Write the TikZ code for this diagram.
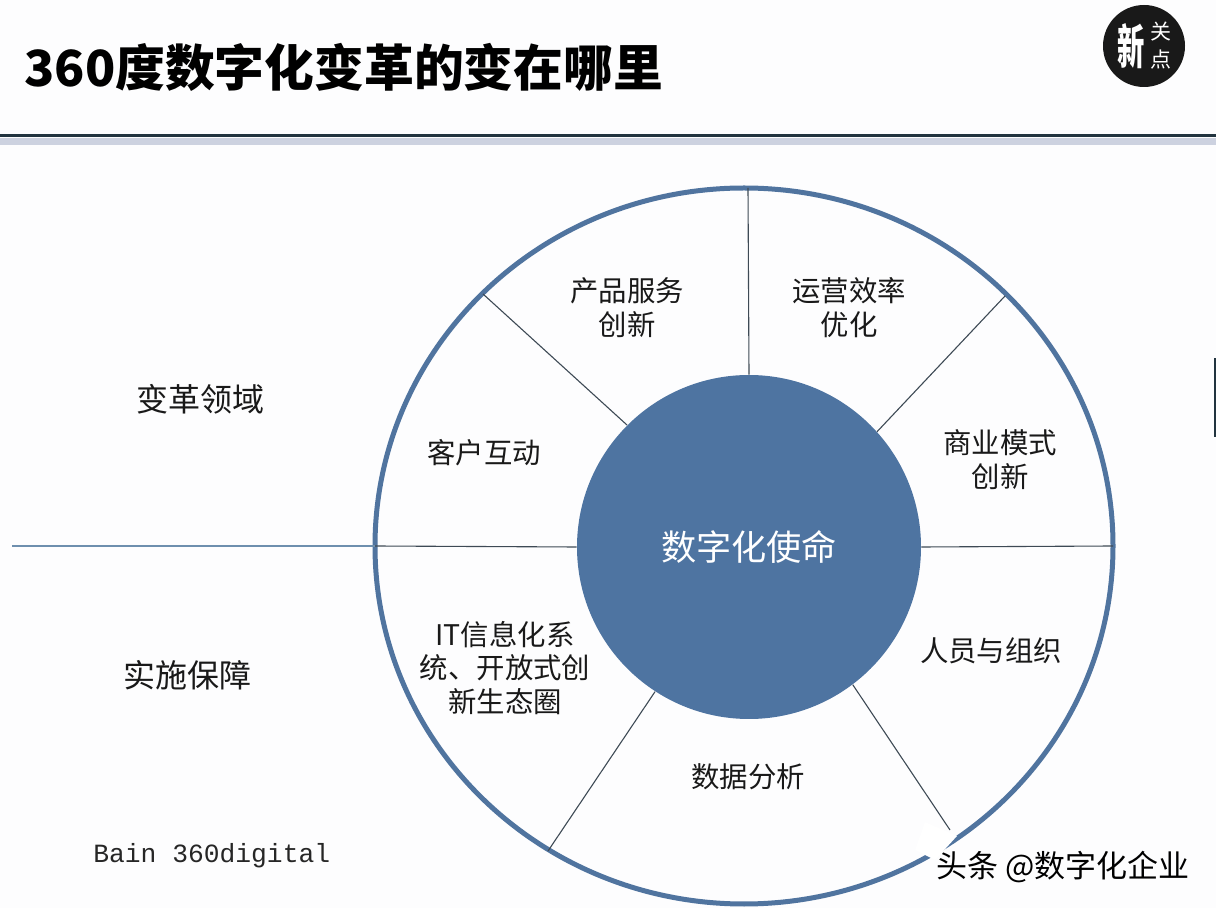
\documentclass[tikz,border=0pt]{standalone}
\usepackage{fontspec}
\setmainfont{Noto Sans CJK SC}
\setmonofont{Liberation Mono}
\definecolor{ringblue}{HTML}{50749F}
\definecolor{corefill}{HTML}{4E74A1}
\definecolor{spokedark}{HTML}{3E4A55}
\definecolor{axisblue}{HTML}{6E8FAE}
\definecolor{headdark}{HTML}{22343F}
\definecolor{headband}{HTML}{CDD2E0}
\definecolor{pagebg}{HTML}{FDFDFE}
\tikzset{
  x=0.5pt,y=-0.5pt,
  label text/.style={font=\fontsize{14.2pt}{16.7pt}\selectfont,align=center,text=black!90,inner sep=0pt},
  side text/.style={font=\fontsize{16pt}{20pt}\selectfont,text=black!90,inner sep=0pt},
  spoke/.style={draw=spokedark,line width=0.55pt},
}
\begin{document}
\begin{tikzpicture}
\useasboundingbox (0,0) rectangle (1216,908);
\fill[pagebg] (0,0) rectangle (1216,908);
% header
\node[anchor=west,inner sep=0pt,font=\fontsize{24.9pt}{30pt}\selectfont\bfseries] (title) at (24,67) {360度数字化变革的变在哪里};
\fill[headband] (0,138) rectangle (1216,145);
\draw[headdark,line width=1.2pt] (0,135.5) -- (1216,135.5);
\fill[headdark] (1214,358) rectangle (1216,437);
% logo
\node[circle,fill=black!90,minimum size=41pt,inner sep=0pt] (logo) at (1144,46) {};
\node[text=white,inner sep=0pt,xscale=0.62,yscale=1.08,font=\fontsize{22pt}{22pt}\selectfont\bfseries] (logoa) at (1131,46) {新};
\node[text=white,inner sep=0pt,font=\fontsize{10.5pt}{11pt}\selectfont] (logob) at (1161,32) {关};
\node[text=white,inner sep=0pt,font=\fontsize{10.5pt}{11pt}\selectfont] (logoc) at (1161,60) {点};
% coordinates
\coordinate (rt) at (748,188);
\coordinate (rul) at (483,294);
\coordinate (rur) at (1005,296);
\coordinate (rl) at (375,546);
\coordinate (rr) at (1113,546);
\coordinate (rll) at (548,851);
\coordinate (rlr) at (950,830);
\coordinate (far) at (12,546);
% ring
\draw[ringblue,line width=2.5pt] (744,546) ellipse [x radius=369,y radius=358];
% core
\node[circle,fill=corefill,minimum size=172pt,inner sep=0pt,text=white,font=\fontsize{17.6pt}{22pt}\selectfont] (core) at (749,547) {数字化使命};
% spokes
\draw[spoke] (rt) -- (core.north);
\draw[spoke] (rul) -- (core.135);
\draw[spoke] (rur) -- (core.42);
\draw[draw=axisblue,line width=0.6pt] (far) -- (rl);
\draw[spoke] (rl) -- (core.west);
\draw[spoke] (rr) -- (core.east);
\draw[spoke] (rll) -- (core.-123);
\draw[spoke] (rlr) -- (core.-53.6);
% labels
\node[label text] (a) at (627,307.5) {产品服务\\创新};
\node[label text] (b) at (849,307.5) {运营效率\\优化};
\node[label text] (c) at (1000,459.5) {商业模式\\创新};
\node[label text] (d) at (484,453) {客户互动};
\node[label text] (e) at (991,651) {人员与组织};
\node[label text] (f) at (505,668) {IT信息化系\\统、开放式创\\新生态圈};
\node[label text] (g) at (748,777) {数据分析};
\node[side text] (h) at (200.5,399) {变革领域};
\node[side text] (i) at (187.5,675) {实施保障};
\node[anchor=west,inner sep=0pt,font=\fontsize{13.15pt}{16pt}\selectfont\ttfamily,text=black!85] (j) at (93,855.5) {Bain 360digital};
% watermark
\fill[white] (925,822) -- (957,836) -- (935,860) -- (915,850) -- cycle;
\node[anchor=west,inner sep=0pt,text=black,font=\fontsize{15.5pt}{18pt}\selectfont] (k) at (936,867) {头条 @数字化企业};
\end{tikzpicture}
\end{document}
